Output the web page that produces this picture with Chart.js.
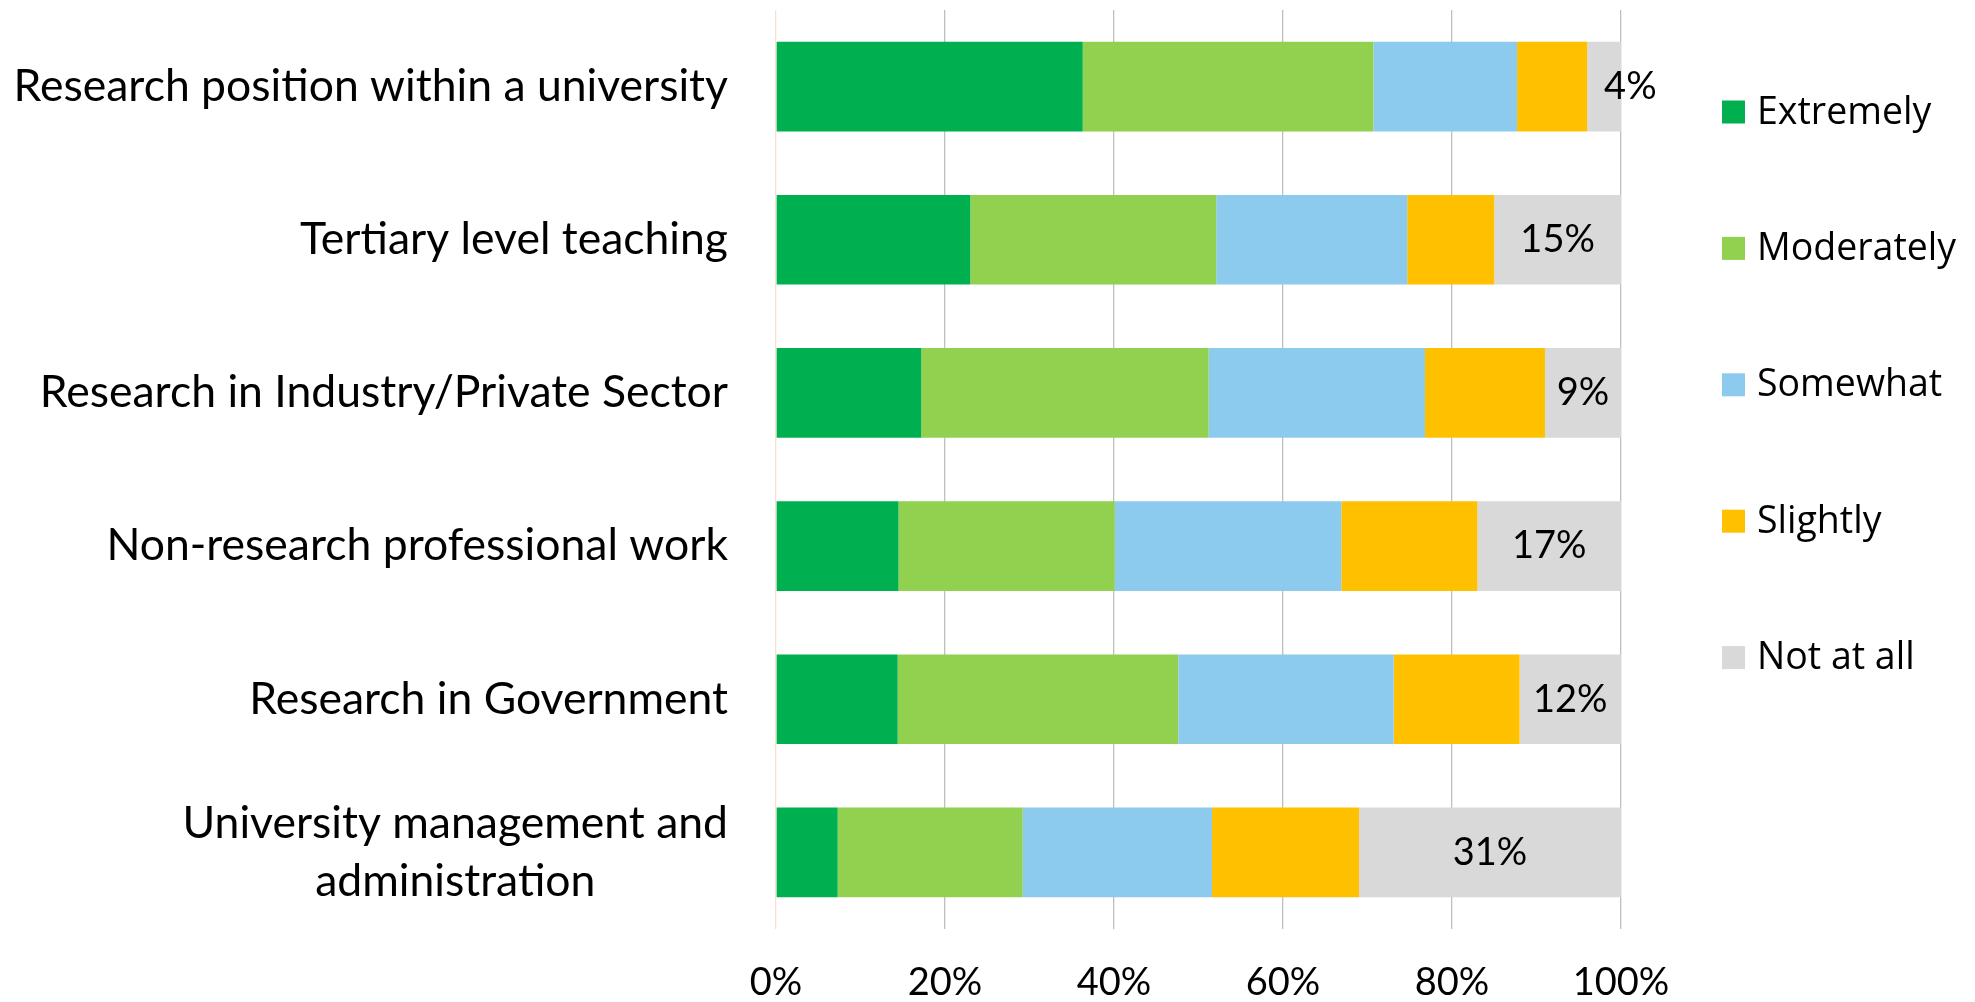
<!DOCTYPE html>
<html>
<head>
<meta charset="utf-8">
<script src="https://cdn.jsdelivr.net/npm/chart.js@4/dist/chart.umd.min.js"></script>
<style>
  html, body { margin: 0; padding: 0; background: #ffffff; }
  #wrap { width: 1975px; height: 1002px; }
</style>
</head>
<body>
<div id="wrap"><canvas id="c" width="1975" height="1002"></canvas></div>
<script>
// Survey categories (last one wraps onto two lines)
const categories = [
  'Research position within a university',
  'Tertiary level teaching',
  'Research in Industry/Private Sector',
  'Non-research professional work',
  'Research in Government',
  ['University management and', 'administration']
];

// Share of respondents per answer, in percent
const extremely  = [36.3, 23.0, 17.2, 14.5, 14.4, 7.3];
const moderately = [34.4, 29.1, 34.0, 25.6, 33.2, 21.9];
const somewhat   = [17.0, 22.6, 25.6, 26.8, 25.5, 22.4];
const slightly   = [8.3, 10.3, 14.2, 16.1, 14.9, 17.4];
const notAtAll   = [4, 15, 9, 17, 12, 31];

const seriesNames  = ['Extremely', 'Moderately', 'Somewhat', 'Slightly', 'Not at all'];
const seriesValues = [extremely, moderately, somewhat, slightly, notAtAll];
const seriesColors = ['#00B050', '#92D050', '#8CCBEE', '#FFC000', '#D9D9D9'];

const xTickValues = [0, 20, 40, 60, 80, 100];

const LABEL_FONT = 'Lato, "Open Sans", sans-serif';
const LEGEND_FONT = '"Open Sans", Lato, sans-serif';

// Category names on the left: single lines right-aligned, wrapped lines centred as a block
const categoryLabels = {
  id: 'categoryLabels',
  afterDraw(chart) {
    const { ctx } = chart;
    const yScale = chart.scales.y;
    const right = chart.chartArea.left - 48;
    const lineH = 58;
    ctx.save();
    ctx.fillStyle = '#000000';
    ctx.font = '44.5px ' + LABEL_FONT;
    ctx.textBaseline = 'middle';
    chart.data.labels.forEach((lab, i) => {
      const y = yScale.getPixelForValue(i);
      if (Array.isArray(lab)) {
        const widest = Math.max(...lab.map(t => ctx.measureText(t).width));
        const cx = right - widest / 2;
        ctx.textAlign = 'center';
        lab.forEach((t, k) => {
          ctx.fillText(t, cx, y + (k - (lab.length - 1) / 2) * lineH);
        });
      } else {
        ctx.textAlign = 'right';
        ctx.fillText(lab, right, y);
      }
    });
    ctx.restore();
  }
};

// Percent label on the "Not at all" segment of each bar
const segmentLabels = {
  id: 'segmentLabels',
  afterDatasetsDraw(chart) {
    const { ctx } = chart;
    const dsIndex = chart.data.datasets.length - 1;
    const meta = chart.getDatasetMeta(dsIndex);
    const values = chart.data.datasets[dsIndex].data;
    ctx.save();
    ctx.fillStyle = '#000000';
    ctx.font = '38px ' + LABEL_FONT;
    ctx.textBaseline = 'middle';
    meta.data.forEach((bar, i) => {
      const text = Math.round(values[i]) + '%';
      const segW = Math.abs(bar.x - bar.base);
      const cx = (bar.x + bar.base) / 2;
      const w = ctx.measureText(text).width;
      ctx.textAlign = w > segW ? 'left' : 'center';
      ctx.fillText(text, cx, bar.y);
    });
    ctx.restore();
  }
};

// Vertical legend to the right of the plot
const sideLegend = {
  id: 'sideLegend',
  afterDraw(chart) {
    const { ctx } = chart;
    const boxX = 1722, box = 23, textX = 1757;
    const firstY = 112, step = 136.4;
    ctx.save();
    ctx.font = '37.5px ' + LEGEND_FONT;
    ctx.textAlign = 'left';
    ctx.textBaseline = 'middle';
    chart.data.datasets.forEach((ds, i) => {
      const y = firstY + i * step;
      ctx.fillStyle = ds.backgroundColor;
      ctx.fillRect(boxX, y - box / 2, box, box);
      ctx.fillStyle = '#000000';
      ctx.fillText(ds.label, textX, y + 1);
    });
    ctx.restore();
  }
};

const ctx = document.getElementById('c').getContext('2d');
new Chart(ctx, {
  type: 'bar',
  data: {
    labels: categories,
    datasets: seriesNames.map((name, i) => ({
      label: name,
      data: seriesValues[i],
      backgroundColor: seriesColors[i],
      borderWidth: 0,
      categoryPercentage: 1.0,
      barPercentage: 0.585
    }))
  },
  options: {
    indexAxis: 'y',
    responsive: false,
    animation: false,
    devicePixelRatio: 1,
    layout: { padding: { top: 10, right: 354, left: 0, bottom: 0 } },
    plugins: {
      legend: { display: false },
      tooltip: { enabled: false }
    },
    scales: {
      x: {
        stacked: true,
        min: 0,
        max: 100,
        afterBuildTicks: (scale) => { scale.ticks = xTickValues.map(v => ({ value: v })); },
        ticks: {
          callback: (v) => v + '%',
          font: { family: LABEL_FONT, size: 38 },
          color: '#000000',
          padding: 31,
          maxRotation: 0
        },
        grid: {
          color: (c) => (c.tick && c.tick.value === 0 ? '#FBE0CF' : '#BFBFBF'),
          lineWidth: 1.3,
          drawTicks: false
        },
        border: { display: false },
        afterFit: (scale) => { scale.height = 73; }
      },
      y: {
        stacked: true,
        ticks: { display: false },
        grid: { display: false },
        border: { display: false },
        afterFit: (scale) => { scale.width = 776; }
      }
    }
  },
  plugins: [categoryLabels, segmentLabels, sideLegend]
});
</script>
</body>
</html>
